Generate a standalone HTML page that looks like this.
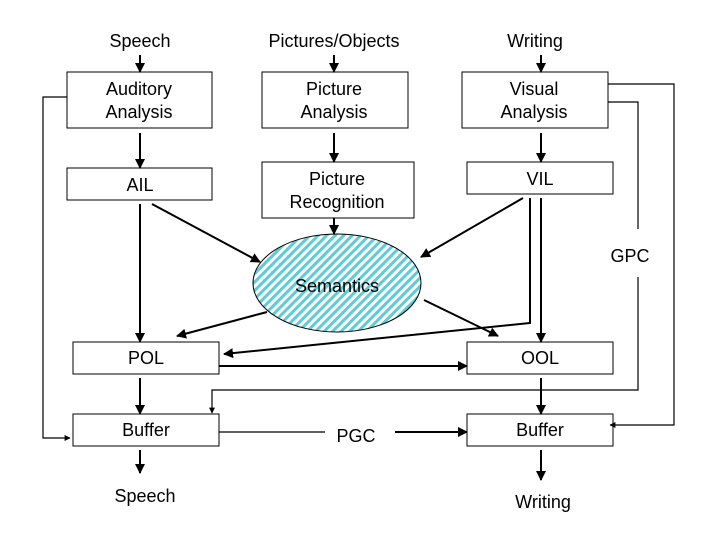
<!DOCTYPE html>
<html><head><meta charset="utf-8"><style>
html,body{margin:0;padding:0;background:#fff}
svg text{font-family:"Liberation Sans",Arial,sans-serif;font-size:18px;fill:#000}
</style></head><body>
<svg width="720" height="540" viewBox="0 0 720 540" xmlns="http://www.w3.org/2000/svg">
<defs>
<marker id="a" viewBox="0 0 10 10" refX="9" refY="5" markerWidth="5" markerHeight="5" orient="auto"><path d="M0,0 L10,5 L0,10z" fill="#000"/></marker>
<pattern id="h" width="6" height="6" patternUnits="userSpaceOnUse" patternTransform="rotate(45)">
<rect width="6" height="6" fill="#fff"/><rect width="3" height="6" fill="#5cccd6"/></pattern>
</defs>
<g fill="none" stroke="#000" stroke-width="1">
<rect x="67" y="72" width="145" height="56"/>
<rect x="262" y="72" width="146" height="56"/>
<rect x="462" y="72" width="146" height="56"/>
<rect x="67" y="168" width="145" height="32"/>
<rect x="262" y="162" width="152" height="56"/>
<rect x="467" y="162" width="146" height="32"/>
<rect x="73" y="342" width="146" height="32"/>
<rect x="467" y="342" width="146" height="32"/>
<rect x="73" y="414" width="146" height="32"/>
<rect x="467" y="414" width="146" height="32"/>
</g>
<ellipse cx="337" cy="283" rx="84" ry="49" fill="url(#h)" stroke="#000" stroke-width="1"/>
<g stroke="#000" stroke-width="2" fill="none" marker-end="url(#a)">
<line x1="140" y1="55" x2="140" y2="72"/>
<line x1="334" y1="55" x2="334" y2="72"/>
<line x1="541" y1="55" x2="541" y2="72"/>
<line x1="140" y1="133" x2="140" y2="168"/>
<line x1="334" y1="133" x2="334" y2="162"/>
<line x1="541" y1="133" x2="541" y2="162"/>
<line x1="334" y1="218" x2="334" y2="234"/>
<line x1="152" y1="204" x2="260" y2="262"/>
<line x1="523" y1="198" x2="421" y2="257"/>
<line x1="140" y1="204" x2="140" y2="342"/>
<line x1="541" y1="198" x2="541" y2="342"/>
<polyline points="530,198 530,323 224,354"/>
<line x1="267" y1="312" x2="177" y2="336"/>
<line x1="424" y1="300" x2="498" y2="336"/>
<line x1="219" y1="366" x2="467" y2="366"/>
<line x1="140" y1="378" x2="140" y2="414"/>
<line x1="541" y1="378" x2="541" y2="414"/>
<line x1="140" y1="450" x2="140" y2="473"/>
<line x1="541" y1="450" x2="541" y2="480"/>
<line x1="395" y1="432" x2="467" y2="432"/>
</g>
<g stroke="#000" stroke-width="1.2" fill="none">
<line x1="219" y1="432" x2="325" y2="432"/>
<polyline points="67,97 43,97 43,438 70,438" marker-end="url(#a)"/>
<polyline points="608,84 674,84 674,425 610,425" marker-end="url(#a)"/>
<polyline points="608,102 638,102 638,229"/>
<polyline points="638,277 638,390 212,390 212,413" marker-end="url(#a)"/>
</g>
<g text-anchor="middle">
<text x="140" y="47">Speech</text>
<text x="334" y="47">Pictures/Objects</text>
<text x="535" y="47">Writing</text>
<text x="139" y="95">Auditory</text><text x="139" y="118">Analysis</text>
<text x="334" y="95">Picture</text><text x="334" y="118">Analysis</text>
<text x="534" y="95">Visual</text><text x="534" y="118">Analysis</text>
<text x="140" y="191">AIL</text>
<text x="337" y="185">Picture</text><text x="337" y="208">Recognition</text>
<text x="540" y="185">VIL</text>
<text x="337" y="292">Semantics</text>
<text x="630" y="262">GPC</text>
<text x="146" y="364">POL</text>
<text x="540" y="364">OOL</text>
<text x="146" y="436">Buffer</text>
<text x="540" y="436">Buffer</text>
<text x="356" y="442">PGC</text>
<text x="145" y="502">Speech</text>
<text x="543" y="508">Writing</text>
</g>
</svg>
</body></html>
